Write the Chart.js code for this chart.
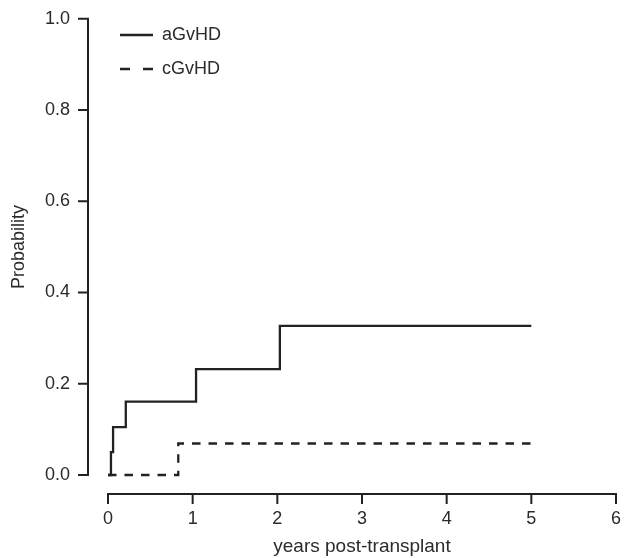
<!DOCTYPE html>
<html>
<head>
<meta charset="utf-8">
<script src="https://cdn.jsdelivr.net/npm/chart.js@4/dist/chart.umd.min.js"></script>
<style>
  body { margin: 0; background: #fff; }
  canvas { display: block; }
</style>
</head>
<body>
<canvas id="gvhdChart" width="630" height="558"></canvas>
<script>
// cumulative incidence
var aTimes = [0, 0.035, 0.06, 0.21, 1.04, 2.03, 5.0];
var aProb  = [0, 0.05, 0.105, 0.161, 0.232, 0.327, 0.327];
var cTimes = [0, 0.83, 5.0];
var cProb  = [0, 0.069, 0.069];
var seriesNames = ["aGvHD", "cGvHD"];
var xTicks = [0, 1, 2, 3, 4, 5, 6];
var yTicks = [0, 0.2, 0.4, 0.6, 0.8, 1.0];

var ink = "#222222";
var textInk = "#2b2b2b";
var fontName = "'Liberation Sans', Arial, sans-serif";

function toPoints(xs, ys) {
  var pts = [];
  for (var i = 0; i < xs.length; i++) pts.push({x: xs[i], y: ys[i]});
  return pts;
}

// R-style detached axes + legend in the top left corner
var rAxes = {
  id: "rAxes",
  afterDatasetsDraw: function(chart) {
    var ctx = chart.ctx;
    var xs = chart.scales.x, ys = chart.scales.y;
    var area = chart.chartArea;
    ctx.save();
    ctx.strokeStyle = ink;
    ctx.lineWidth = 2;
    ctx.setLineDash([]);
    // y axis
    var ax = area.left - 20;
    ctx.beginPath();
    ctx.moveTo(ax, ys.getPixelForValue(yTicks[0]));
    ctx.lineTo(ax, ys.getPixelForValue(yTicks[yTicks.length - 1]));
    yTicks.forEach(function(v) {
      var py = ys.getPixelForValue(v);
      ctx.moveTo(ax + 1, py);
      ctx.lineTo(ax - 10, py);
    });
    ctx.stroke();
    // x axis
    var ay = area.bottom + 19;
    ctx.beginPath();
    ctx.moveTo(xs.getPixelForValue(xTicks[0]), ay);
    ctx.lineTo(xs.getPixelForValue(xTicks[xTicks.length - 1]), ay);
    xTicks.forEach(function(v) {
      var px = xs.getPixelForValue(v);
      ctx.moveTo(px, ay - 1);
      ctx.lineTo(px, ay + 10);
    });
    ctx.stroke();

    // legend
    var legendDash = [[], [10, 13]];
    ctx.font = "18px " + fontName;
    ctx.textBaseline = "middle";
    ctx.textAlign = "left";
    ctx.fillStyle = textInk;
    chart.data.datasets.forEach(function(ds, i) {
      var ly = 35 + i * 34;
      ctx.beginPath();
      ctx.lineWidth = 2.5;
      ctx.setLineDash(legendDash[i]);
      ctx.moveTo(120, ly);
      ctx.lineTo(153, ly);
      ctx.stroke();
      ctx.fillText(ds.label, 162, ly);
    });
    ctx.restore();
  }
};

var myChart = new Chart(document.getElementById("gvhdChart"), {
  type: "line",
  data: {
    datasets: [
      {
        label: seriesNames[0],
        data: toPoints(aTimes, aProb),
        borderColor: ink,
        borderWidth: 2.3,
        stepped: "before",
        pointRadius: 0,
        clip: 6,
        fill: false
      },
      {
        label: seriesNames[1],
        data: toPoints(cTimes, cProb),
        borderColor: ink,
        borderWidth: 2.3,
        borderDash: [8.5, 8],
        stepped: "before",
        pointRadius: 0,
        clip: 6,
        fill: false
      }
    ]
  },
  options: {
    responsive: false,
    animation: false,
    layout: { padding: { left: 0, right: 14, top: 14, bottom: 0 } },
    plugins: { legend: { display: false }, tooltip: { enabled: false } },
    scales: {
      x: {
        type: "linear",
        min: 0,
        max: 6,
        afterFit: function(s) { s.height = 83; },
        afterBuildTicks: function(s) { s.ticks = xTicks.map(function(v) { return {value: v}; }); },
        border: { display: false },
        grid: { drawOnChartArea: false, tickLength: 29, color: "rgba(0,0,0,0)" },
        ticks: { padding: 4, color: textInk, font: { family: fontName, size: 18 }, maxRotation: 0 },
        title: {
          display: true,
          text: "years post-transplant",
          color: textInk,
          font: { family: fontName, size: 19 },
          padding: { top: 0, bottom: 0 }
        }
      },
      y: {
        min: 0,
        max: 1,
        afterFit: function(s) { s.width = 108; },
        afterBuildTicks: function(s) { s.ticks = yTicks.map(function(v) { return {value: v}; }); },
        border: { display: false },
        grid: { drawOnChartArea: false, tickLength: 30, color: "rgba(0,0,0,0)" },
        ticks: {
          padding: 8,
          color: textInk,
          font: { family: fontName, size: 18 },
          callback: function(v) { return v.toFixed(1); }
        },
        title: {
          display: true,
          text: "Probability",
          color: textInk,
          font: { family: fontName, size: 18 },
          padding: { top: 8, bottom: 0 }
        }
      }
    }
  },
  plugins: [rAxes]
});
</script>
</body>
</html>
